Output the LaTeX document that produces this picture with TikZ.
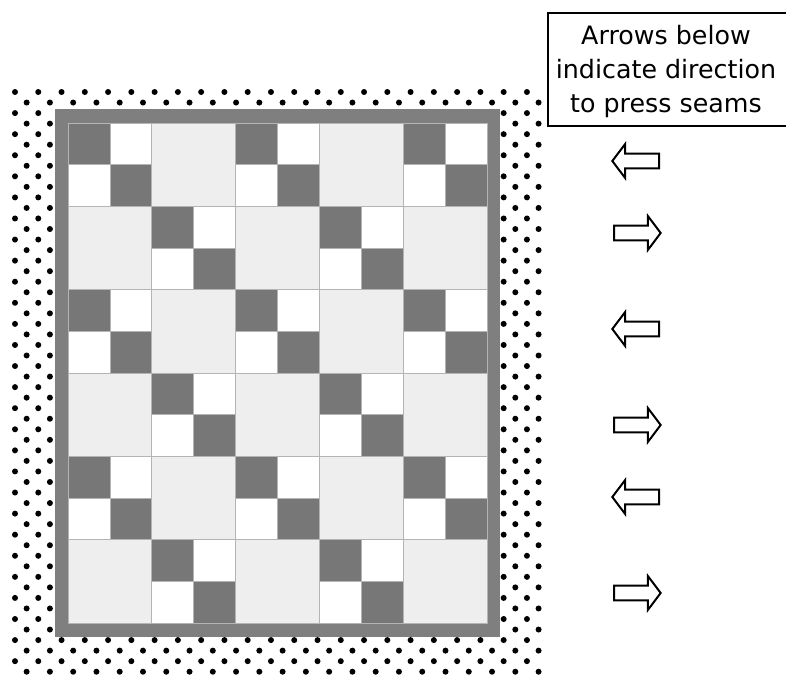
\documentclass[tikz,border=0pt]{standalone}
\usepackage{fontspec}
\setmainfont{DejaVu Sans}
\usetikzlibrary{shapes.arrows}
\definecolor{darkpatch}{HTML}{777777}
\definecolor{lightpatch}{HTML}{EEEEEE}
\definecolor{framegray}{HTML}{7F7F7F}
\definecolor{seamline}{HTML}{B4B4B4}
\tikzset{
  pressarrow/.style={single arrow,draw,fill=white,line width=1.5pt,
    minimum height=35pt,inner xsep=0pt,inner ysep=4.76pt,
    single arrow head extend=7.2pt,single arrow tip angle=106,anchor=tail},
  patch/.style={draw=seamline,line width=0.5pt},
}

\begin{document}
\begin{tikzpicture}[x=0.75pt,y=-0.75pt]
\useasboundingbox (0,0) rectangle (786,675);
% polka dot border
\fill[white] (12,88) rectangle (542,675);
\begin{scope}
\clip (12,88) rectangle (542,675);
\foreach \j in {0,...,56}{
  \pgfmathsetmacro{\dy}{92+10.54*\j}
  \pgfmathsetmacro{\dx}{mod(\j,2)==0 ? 15 : 26.64}
  \foreach \k in {-1,...,23}
    \fill (\dx+23.27*\k,\dy) circle (3);
}
\end{scope}
% gray inner border
\fill[framegray] (55,109) rectangle (500,637);
% blocks
\foreach \r in {0,...,5}
  \foreach \c in {0,...,4}{
    \pgfmathsetmacro{\bx}{68+83.8*\c}
    \pgfmathsetmacro{\by}{123+83.33*\r}
    \pgfmathtruncatemacro{\odd}{mod(\r+\c,2)}
    \ifnum\odd=1
      \filldraw[patch,fill=lightpatch] (\bx,\by) rectangle ++(83.8,83.33);
    \else
      \filldraw[patch,fill=darkpatch] (\bx,\by) rectangle ++(41.9,41.67);
      \filldraw[patch,fill=white] (\bx+41.9,\by) rectangle ++(41.9,41.67);
      \filldraw[patch,fill=white] (\bx,\by+41.67) rectangle ++(41.9,41.67);
      \filldraw[patch,fill=darkpatch] (\bx+41.9,\by+41.67) rectangle ++(41.9,41.67);
    \fi
  }
% note
\draw[line width=1.5pt] (548,13) rectangle (800,126);
\node[font=\fontsize{19pt}{25.5pt}\selectfont,align=center] (note) at (666,72)
  {Arrows below\\indicate direction\\to press seams};
% pressing arrows
\node[pressarrow,shape border rotate=180] (a1) at (660,161) {};
\node[pressarrow] (a2) at (613,233) {};
\node[pressarrow,shape border rotate=180] (a3) at (660,329) {};
\node[pressarrow] (a4) at (613,425) {};
\node[pressarrow,shape border rotate=180] (a5) at (660,497) {};
\node[pressarrow] (a6) at (613,593) {};
\end{tikzpicture}
\end{document}
